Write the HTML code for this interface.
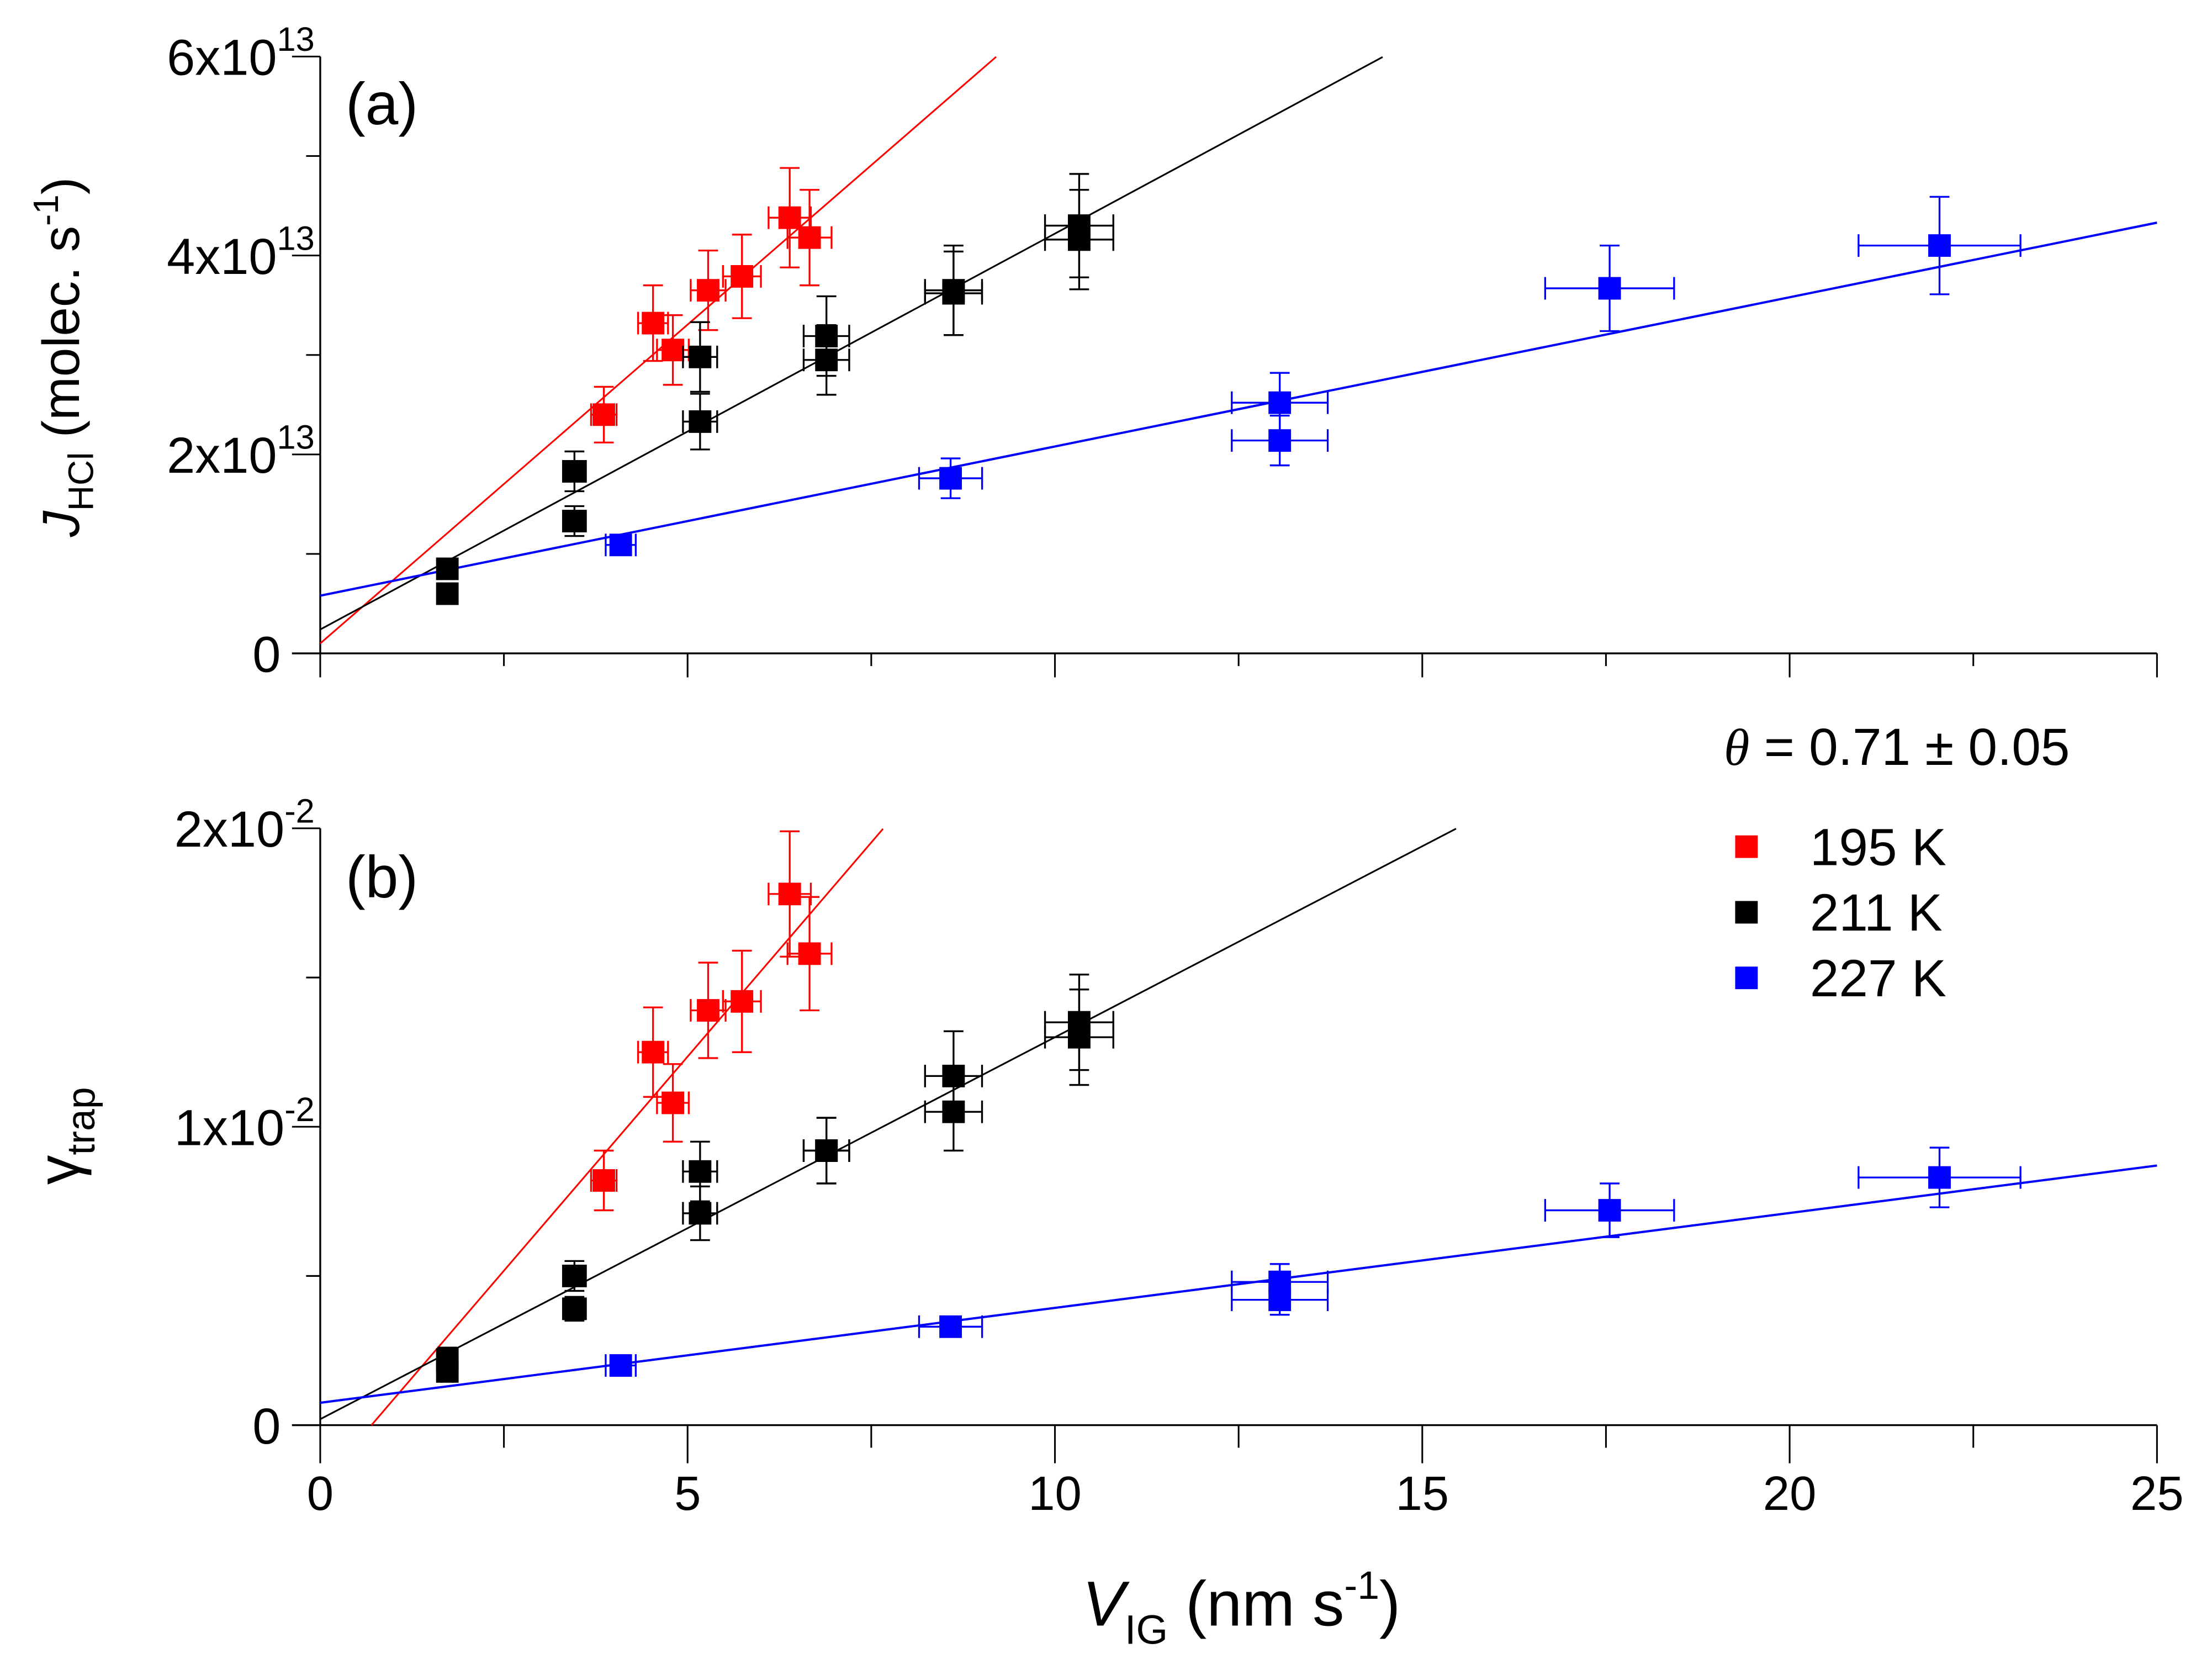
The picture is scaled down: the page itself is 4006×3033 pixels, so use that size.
<!DOCTYPE html>
<html><head><meta charset="utf-8">
<style>
html,body{margin:0;padding:0;background:#fff;}
svg{display:block;font-family:"Liberation Sans",Arial,sans-serif;}
</style></head>
<body>
<svg id="chart" width="4006" height="3033" viewBox="0 0 1568 1187" xmlns="http://www.w3.org/2000/svg">
<rect width="1568" height="1187" fill="#fff"/>
<g id="axes"></g>
<g id="fits"></g>
<g id="marks"></g>
<text x="245" y="88" font-size="42">(a)</text>
<text x="245" y="636" font-size="42">(b)</text>
<text transform="translate(56,253) rotate(-90)" text-anchor="middle" font-size="37"><tspan font-style="italic">J</tspan><tspan font-size="25" dy="10">HCl</tspan><tspan dy="-10"> (molec. s</tspan><tspan font-size="25" dy="-15">-1</tspan><tspan dy="15">)</tspan></text>
<text transform="translate(56,805) rotate(-90)" text-anchor="middle" font-size="42">γ<tspan font-size="28" dy="11">trap</tspan></text>
<text x="880" y="1152" text-anchor="middle" font-size="45"><tspan font-style="italic">V</tspan><tspan font-size="29" dy="13">IG</tspan><tspan dy="-13"> (nm s</tspan><tspan font-size="28" dy="-19">-1</tspan><tspan dy="19">)</tspan></text>
<text x="1222" y="542" font-size="37"><tspan font-family="Liberation Serif,serif" font-style="italic">θ</tspan> = 0.71 ± 0.05</text>
<g id="legend"></g>
</svg>
<script>
// x-axis
const xTicks = [0,5,10,15,20,25];
// Panel (a): J_HCl in units of 1e13 molec s-1
const redAx = [3.86,4.53,4.80,5.28,5.74,6.39,6.66];
const redAy = [2.40,3.32,3.05,3.65,3.79,4.38,4.18];
const redAyErr = [0.28,0.38,0.35,0.40,0.42,0.50,0.48];
const blackAx = [1.73,1.73,3.46,3.46,5.17,5.17,6.89,6.89,8.62,8.62,10.33,10.33];
const blackAy = [0.85,0.60,1.83,1.33,2.98,2.33,3.19,2.95,3.65,3.62,4.30,4.16];
const blackAyErr = [0.1,0.1,0.2,0.15,0.35,0.28,0.4,0.35,0.45,0.42,0.52,0.5];
const blueAx = [4.09,8.58,13.06,13.06,17.55,22.04];
const blueAy = [1.09,1.76,2.52,2.14,3.67,4.10];
const blueAyErr = [0.08,0.2,0.3,0.25,0.43,0.49];
const aTicks = [0,2,4,6];
const aFitIntercept = [0.10,0.24,0.58]; // red, black, blue
const aFitSlope = [0.641,0.398,0.150];
const aFitXmax = [9.2,14.46,25];
// Panel (b): gamma_trap in units of 1e-2
const redBy = [0.82,1.25,1.08,1.39,1.42,1.78,1.58];
const redByErr = [0.10,0.15,0.13,0.16,0.17,0.21,0.19];
const blackBy = [0.22,0.18,0.50,0.39,0.85,0.71,0.92,0.92,1.17,1.05,1.35,1.30];
const blackByErr = [0.04,0.03,0.05,0.04,0.10,0.09,0.11,0.11,0.15,0.13,0.16,0.16];
const blueBy = [0.20,0.33,0.48,0.42,0.72,0.83];
const blueByErr = [0.02,0.03,0.06,0.05,0.09,0.10];
const bTicks = [0,1,2];
const bFitIntercept = [-0.20,0.02,0.075];
const bFitSlope = [0.287,0.128,0.0318];
const bFitXmax = [7.66,15.46,25];
const xErrRel = [0.045,0.045,0.05];
const colors = ['#ff0000','#000000','#0000ff'];
const seriesNames = ['195 K','211 K','227 K'];

const X0=227, X1=1529;
const sx = v => X0 + (X1-X0)*v/25;
const syA = v => 463 - 423*v/6;
const syB = v => 1010 - 423*v/2;
const NS='http://www.w3.org/2000/svg';
function mk(tag, attrs, parent){const e=document.createElementNS(NS,tag);for(const k in attrs)e.setAttribute(k,attrs[k]);parent.appendChild(e);return e;}
const axes=document.getElementById('axes'), fits=document.getElementById('fits'), marks=document.getElementById('marks'), legend=document.getElementById('legend');

function drawAxes(sy, yTop, yBot, ticks, labels, panel, showXLabels){
  let l=mk('line',{x1:X0,y1:yTop,x2:X0,y2:yBot,stroke:'#000','stroke-width':1.3},axes);
  
  
  l=mk('line',{x1:X0-20,y1:yBot,x2:X1,y2:yBot,stroke:'#000','stroke-width':1.3},axes);
  
  
  const step=ticks[1]-ticks[0];
  for(let i=0;i<ticks.length;i++){
    const y=sy(ticks[i]);
    const t=mk('line',{x1:X0-20,y1:y,x2:X0,y2:y,stroke:'#000','stroke-width':1.2},axes);
    
    
    if(i<ticks.length-1){const ym=sy(ticks[i]+step/2);
      const m=mk('line',{x1:X0-10,y1:ym,x2:X0,y2:ym,stroke:'#000','stroke-width':1.2},axes);
      
      }
    const lab=labels[i];
    const tx=mk('text',{x:lab[1]?X0-4:X0-28,y:y+13,'text-anchor':'end','font-size':36},axes);
    
    
    if(lab[1]){tx.textContent=lab[0];const sp=mk('tspan',{'font-size':24,dy:-17},tx);sp.textContent=lab[1];}
    else{tx.textContent=lab[0];}
  }
  for(let i=0;i<xTicks.length;i++){
    const x=sx(xTicks[i]);
    const t=mk('line',{x1:x,y1:yBot,x2:x,y2:yBot+(showXLabels?27:17),stroke:'#000','stroke-width':1.2},axes);
    
    
    if(i<xTicks.length-1){const xm=sx(xTicks[i]+2.5);
      const m=mk('line',{x1:xm,y1:yBot,x2:xm,y2:yBot+(showXLabels?16:9),stroke:'#000','stroke-width':1.2},axes);
      
      }
    if(showXLabels){const tx=mk('text',{x:x,y:1070,'text-anchor':'middle','font-size':34},axes);
      
      
      tx.textContent=String(xTicks[i]);}
  }
}
drawAxes(syA,40,463,aTicks,[['0',''],['2x10','13'],['4x10','13'],['6x10','13']],'a',false);
drawAxes(syB,587,1010,bTicks,[['0',''],['1x10','-2'],['2x10','-2']],'b',true);

function drawFits(sy, ic, sl, xmax, panel){
  for(let s=0;s<3;s++){
    let xa=0; if(ic[s]<0) xa=-ic[s]/sl[s];
    const l=mk('line',{x1:sx(xa),y1:sy(ic[s]+sl[s]*xa),x2:sx(xmax[s]),y2:sy(ic[s]+sl[s]*xmax[s]),stroke:colors[s],'stroke-width':s===2?1.6:1.2},fits);
    
    
  }
}
drawFits(syA,aFitIntercept,aFitSlope,aFitXmax,'a');
drawFits(syB,bFitIntercept,bFitSlope,bFitXmax,'b');

function drawSeries(xs, ys, ye, sy, s, panel){
  const c=colors[s];
  for(let i=0;i<xs.length;i++){
    const g=mk('g',{},marks);
    
    
    const x=sx(xs[i]), y=sy(ys[i]);
    const xe=(X1-X0)*xs[i]*xErrRel[s]/25;
    const y1=sy(ys[i]+ye[i]), y2=sy(ys[i]-ye[i]);
    const x1=sx(xs[i])-xe, x2=sx(xs[i])+xe;
    mk('line',{x1:x,y1:y1,x2:x,y2:y2,stroke:c,'stroke-width':1.3},g);
    mk('line',{x1:x-7,y1:y1,x2:x+7,y2:y1,stroke:c,'stroke-width':1.3},g);
    mk('line',{x1:x-7,y1:y2,x2:x+7,y2:y2,stroke:c,'stroke-width':1.3},g);
    mk('line',{x1:x1,y1:y,x2:x2,y2:y,stroke:c,'stroke-width':1.3},g);
    mk('line',{x1:x1,y1:y-8,x2:x1,y2:y+8,stroke:c,'stroke-width':1.3},g);
    mk('line',{x1:x2,y1:y-8,x2:x2,y2:y+8,stroke:c,'stroke-width':1.3},g);
    mk('rect',{x:x-8,y:y-8,width:16,height:16,fill:c},g);
  }
}
drawSeries(redAx,redAy,redAyErr,syA,0,'a');
drawSeries(blackAx,blackAy,blackAyErr,syA,1,'a');
drawSeries(blueAx,blueAy,blueAyErr,syA,2,'a');
drawSeries(redAx,redBy,redByErr,syB,0,'b');
drawSeries(blackAx,blackBy,blackByErr,syB,1,'b');
drawSeries(blueAx,blueBy,blueByErr,syB,2,'b');

for(let s=0;s<3;s++){
  const g=mk('g',{},legend);
  
  
  const y=600+46.5*s;
  mk('rect',{x:1230,y:y-8,width:16,height:16,fill:colors[s]},g);
  const t=mk('text',{x:1283,y:y+13,'font-size':37},g);
  t.textContent=seriesNames[s];
}
</script>
</body></html>
